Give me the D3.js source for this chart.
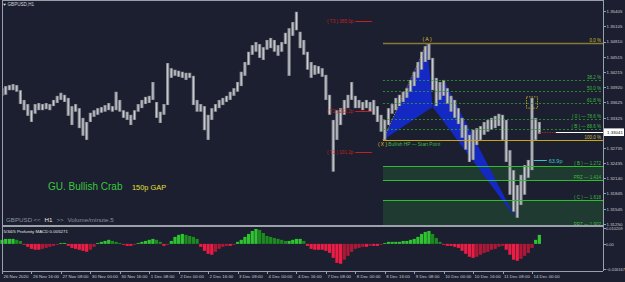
<!DOCTYPE html>
<html lang="en">
<head>
<meta charset="UTF-8">
<title>GBPUSD H1 - Bullish Crab</title>
<style>
  body { margin: 0; background: #1b1f30; }
  svg { display: block; }
  text { font-family: "Liberation Sans", Arial, sans-serif; }
  .axis path, .axis line { stroke: #9a9fab; shape-rendering: crispEdges; }
  .axis text { fill: #c9ccd3; font-size: 4.4px; font-family: "Liberation Sans", Arial, sans-serif; }
</style>
</head>
<body>
<svg id="chart" width="625" height="282"></svg>
<script src="https://cdn.jsdelivr.net/npm/d3@7"></script>
<script>
// ---- data (H1 chart, one entry per 2 hours) ----
const dateLabels = ['26 Nov 2020', '26 Nov 16:00', '27 Nov 08:00', '30 Nov 00:00', '30 Nov 16:00',
  '1 Dec 08:00', '2 Dec 00:00', '2 Dec 16:00', '3 Dec 08:00', '4 Dec 00:00', '4 Dec 16:00',
  '7 Dec 08:00', '8 Dec 00:00', '8 Dec 16:00', '9 Dec 08:00', '10 Dec 00:00', '10 Dec 16:00',
  '11 Dec 08:00', '14 Dec 00:00'];

const priceTicks = [1.35405, 1.35105, 1.34810, 1.34515, 1.34215, 1.33920, 1.33625, 1.33325,
  1.33030, 1.32735, 1.32435, 1.32140, 1.31845, 1.31545, 1.31250];

const barHigh = [
  1.3390, 1.3394, 1.3396, 1.3398, 1.3396, 1.3386, 1.3367, 1.3359, 1.3347, 1.3359,
  1.3361, 1.3359, 1.3361, 1.3359, 1.3367, 1.3375, 1.3381, 1.3377, 1.3371, 1.3355,
  1.3359, 1.3351, 1.3332, 1.3324, 1.3342, 1.3347, 1.3351, 1.3353, 1.3357, 1.3361,
  1.3355, 1.3383, 1.3367, 1.3347, 1.3344, 1.3338, 1.3347, 1.3359, 1.3367, 1.3373,
  1.3375, 1.3402, 1.3363, 1.3344, 1.3359, 1.3439, 1.3429, 1.3426, 1.3424, 1.3422,
  1.3420, 1.3420, 1.3414, 1.3367, 1.3359, 1.3355, 1.3338, 1.3351, 1.3359, 1.3367,
  1.3371, 1.3375, 1.3383, 1.3390, 1.3402, 1.3422, 1.3441, 1.3461, 1.3474, 1.3480,
  1.3476, 1.3470, 1.3484, 1.3488, 1.3484, 1.3474, 1.3480, 1.3498, 1.3507, 1.3519,
  1.3539, 1.3500, 1.3484, 1.3461, 1.3441, 1.3435, 1.3433, 1.3429, 1.3416, 1.3377,
  1.3328, 1.3347, 1.3351, 1.3367, 1.3377, 1.3402, 1.3375, 1.3367, 1.3363, 1.3367,
  1.3363, 1.3367, 1.3355, 1.3338, 1.3328, 1.3351, 1.3359, 1.3371, 1.3377, 1.3383,
  1.3390, 1.3406, 1.3422, 1.3441, 1.3461, 1.3472, 1.3478, 1.3449, 1.3410, 1.3402,
  1.3406, 1.3390, 1.3375, 1.3367, 1.3351, 1.3332, 1.3318, 1.3299, 1.3309, 1.3312,
  1.3316, 1.3324, 1.3328, 1.3332, 1.3336, 1.3340, 1.3338, 1.3328, 1.3269, 1.3230,
  1.3201, 1.3221, 1.3240, 1.3250, 1.3371, 1.3332, 1.3324];

const barLow = [
  1.3375, 1.3377, 1.3386, 1.3386, 1.3383, 1.3359, 1.3347, 1.3336, 1.3324, 1.3340,
  1.3347, 1.3347, 1.3349, 1.3347, 1.3355, 1.3361, 1.3367, 1.3363, 1.3336, 1.3318,
  1.3344, 1.3312, 1.3297, 1.3289, 1.3324, 1.3334, 1.3338, 1.3342, 1.3344, 1.3347,
  1.3344, 1.3347, 1.3344, 1.3332, 1.3328, 1.3318, 1.3328, 1.3344, 1.3351, 1.3359,
  1.3361, 1.3367, 1.3332, 1.3322, 1.3338, 1.3357, 1.3410, 1.3414, 1.3412, 1.3410,
  1.3406, 1.3410, 1.3357, 1.3344, 1.3344, 1.3308, 1.3289, 1.3328, 1.3344, 1.3351,
  1.3357, 1.3363, 1.3367, 1.3375, 1.3383, 1.3394, 1.3414, 1.3435, 1.3455, 1.3461,
  1.3449, 1.3445, 1.3465, 1.3468, 1.3461, 1.3453, 1.3461, 1.3476, 1.3414, 1.3492,
  1.3503, 1.3468, 1.3455, 1.3426, 1.3410, 1.3416, 1.3418, 1.3412, 1.3367, 1.3338,
  1.3227, 1.3289, 1.3318, 1.3338, 1.3351, 1.3367, 1.3351, 1.3351, 1.3347, 1.3351,
  1.3344, 1.3338, 1.3324, 1.3305, 1.3289, 1.3318, 1.3340, 1.3347, 1.3355, 1.3363,
  1.3371, 1.3383, 1.3394, 1.3410, 1.3426, 1.3441, 1.3445, 1.3386, 1.3355, 1.3367,
  1.3375, 1.3359, 1.3344, 1.3332, 1.3320, 1.3293, 1.3270, 1.3246, 1.3250, 1.3279,
  1.3289, 1.3299, 1.3305, 1.3309, 1.3312, 1.3316, 1.3289, 1.3246, 1.3182, 1.3149,
  1.3137, 1.3162, 1.3182, 1.3215, 1.3230, 1.3289, 1.3301];

// 5/34/5 MACD histogram
const macdHist = [
  0.0026, 0.0032, 0.0032, 0.0032, 0.0026, 0.0019, -0.0006, -0.0019, -0.0032, -0.0038,
  -0.0038, -0.0032, -0.0026, -0.0019, -0.0013, -0.0006, 0.0006, 0.0006, -0.0013, -0.0026,
  -0.0032, -0.0038, -0.0045, -0.0051, -0.0038, -0.0019, 0.0006, 0.0013, 0.0019, 0.0026,
  0.0019, 0.0013, 0.0006, -0.0006, -0.0013, -0.0013, -0.0006, 0.0006, 0.0013, 0.0019,
  0.0026, 0.0032, 0.0026, 0.0013, -0.0013, -0.0006, 0.0019, 0.0045, 0.0058, 0.0064,
  0.0058, 0.0051, 0.0045, 0.0032, -0.0019, -0.0045, -0.0064, -0.0070, -0.0051, -0.0032,
  -0.0019, -0.0013, -0.0013, -0.0006, 0.0013, 0.0026, 0.0045, 0.0064, 0.0083, 0.0096,
  0.0090, 0.0070, 0.0051, 0.0045, 0.0038, 0.0032, 0.0026, 0.0019, 0.0019, 0.0026,
  0.0032, 0.0032, 0.0019, -0.0013, -0.0032, -0.0038, -0.0038, -0.0038, -0.0045, -0.0058,
  -0.0090, -0.0122, -0.0128, -0.0102, -0.0077, -0.0051, -0.0032, -0.0026, -0.0019, -0.0019,
  -0.0013, -0.0013, -0.0013, -0.0006, 0.0006, 0.0013, 0.0013, 0.0013, 0.0013, 0.0019,
  0.0019, 0.0026, 0.0032, 0.0045, 0.0064, 0.0077, 0.0083, 0.0064, 0.0038, 0.0013,
  -0.0006, -0.0013, -0.0013, -0.0019, -0.0026, -0.0045, -0.0064, -0.0083, -0.0090, -0.0083,
  -0.0070, -0.0058, -0.0051, -0.0038, -0.0032, -0.0019, -0.0013, -0.0038, -0.0070, -0.0102,
  -0.0109, -0.0096, -0.0077, -0.0058, -0.0026, 0.0026, 0.0058];
const macdTicks = [0.010209, 0, -0.016167];

// harmonic pattern points (bar index, price)
const patX = { bar: 207, price: 1.3289 };
const patA = { bar: 231, price: 1.3478 };
const patB = { bar: 234, price: 1.3353 };
const patC = { bar: 240, price: 1.3406 };
const patD = { bar: 279, price: 1.3137 };

const fibRatios = [0, 0.382, 0.5, 0.618, 0.786, 0.886, 1.0];
const fibNames = ['0.0 %', '38.2 %', '50.0 %', '61.8 %', '( 0 ) \u2014 78.6 %', '( B ) \u2014 88.6 %', '100.0 %'];
const extRatios = [1.272, 1.414, 1.618, 1.902];
const extNames = ['( B ) \u2014 1.272', 'PRZ \u2014 1.414', '( C ) \u2014 1.618', 'PRZ \u2014 1.902'];

const targetNames = ['( T1 ) 101.2p', '( T2 ) 262.2p', '( T3 ) 385.0p'];
const targetPrices = [1.32655, 1.33454, 1.35210];

const bidPrice = 1.33041;
const gapPrice = 1.3250;   // 63.9p marker
const boxPrices = [1.3351, 1.3373];

// ---- layout ----
const W = 625, H = 282;
const left = 2, right = 603, mainTop = 1, mainBottom = 225, macdBottom = 271;

const svg = d3.select('#chart');
svg.append('rect').attr('width', W).attr('height', H).attr('fill', '#1b1f30');

const x = d3.scaleLinear().domain([0, 288]).range([2, 532]);
const y = d3.scaleLinear().domain([1.31250, 1.35405]).range([224, 11]);
const ym = d3.scaleLinear().domain([-0.016167, 0.010209]).range([269, 228]);

svg.append('clipPath').attr('id', 'clipMain')
  .append('rect').attr('x', left).attr('y', mainTop).attr('width', right - left).attr('height', mainBottom - mainTop);

const main = svg.append('g').attr('clip-path', 'url(#clipMain)');

const levelPrice = r => patA.price - r * (patA.price - patX.price);
const xr = x(patX.bar);

// zones
[[1.272, 1.414], [1.618, 1.902]].forEach(z => {
  main.append('rect')
    .attr('x', xr).attr('width', right - xr)
    .attr('y', y(levelPrice(z[0])))
    .attr('height', y(levelPrice(z[1])) - y(levelPrice(z[0])))
    .attr('fill', '#1e3a31');
});

// pattern triangles
const tri = d3.line().x(d => x(d.bar)).y(d => y(d.price));
main.append('path').attr('d', tri([patX, patA, patB]) + 'Z').attr('fill', '#1428c4');
main.append('path').attr('d', tri([patB, patC, patD]) + 'Z').attr('fill', '#1428c4');

// candles: range bar plus lighter core
main.selectAll('rect.bar').data(barHigh).join('rect')
  .attr('class', 'bar')
  .attr('x', (d, i) => x(i * 2) - 1.6)
  .attr('width', 3.2)
  .attr('y', d => y(d))
  .attr('height', (d, i) => Math.max(1, y(barLow[i]) - y(d)))
  .attr('fill', '#85888f');
main.selectAll('rect.core').data(barHigh).join('rect')
  .attr('class', 'core')
  .attr('x', (d, i) => x(i * 2) - 0.5)
  .attr('width', 1)
  .attr('y', d => y(d) + 0.5)
  .attr('height', (d, i) => Math.max(0.5, y(barLow[i]) - y(d) - 1))
  .attr('fill', '#cfd1d5');

// XA leg dotted
main.append('path').attr('d', tri([patX, patA]))
  .attr('stroke', '#d8b420').attr('stroke-width', 0.8).attr('stroke-dasharray', '1,1.5').attr('fill', 'none');

// fib retracement lines
fibRatios.forEach((r, i) => {
  const yy = Math.round(y(levelPrice(r))) + 0.5;
  let col = '#2fa52f', w = 0.8, dash = '2,2';
  if (r === 0) { col = '#8a7a2e'; w = 1.6; dash = null; }
  if (r === 1) { col = '#caa514'; w = 1.2; dash = null; }
  main.append('line').attr('x1', xr).attr('x2', right).attr('y1', yy).attr('y2', yy)
    .attr('stroke', col).attr('stroke-width', w).attr('stroke-dasharray', dash);
  main.append('text').attr('x', right - 2).attr('y', yy - 1.2)
    .attr('text-anchor', 'end').attr('font-size', 4.5)
    .attr('fill', (r === 0 || r === 1) ? '#d2bc34' : '#3cbc3c')
    .text(fibNames[i]);
});

// extension lines
extRatios.forEach((r, i) => {
  const yy = Math.round(y(levelPrice(r))) + 0.5;
  main.append('line').attr('x1', xr).attr('x2', right).attr('y1', yy).attr('y2', yy)
    .attr('stroke', '#2cbf2c').attr('stroke-width', 1);
  main.append('text').attr('x', right - 2).attr('y', yy - 1.5)
    .attr('text-anchor', 'end').attr('font-size', 4.5).attr('fill', '#3cbc3c')
    .text(extNames[i]);
});

// point labels
main.append('text').attr('x', x(patA.bar)).attr('y', y(patA.price) - 2)
  .attr('text-anchor', 'middle').attr('font-size', 5.2).attr('fill', '#e0c030').text('( A )');
const xl = main.append('text').attr('x', x(patX.bar) - 5).attr('y', y(patX.price) + 6.5)
  .attr('font-size', 4.8);
xl.append('tspan').attr('fill', '#e0c030').text('( X ) ');
xl.append('tspan').attr('fill', '#3cbc3c').text('Bullish HP \u2014 Start Point');

// targets
targetPrices.forEach((p, i) => {
  const yy = Math.round(y(p)) + 0.5;
  main.append('line').attr('x1', x(192)).attr('x2', x(201)).attr('y1', yy).attr('y2', yy)
    .attr('stroke', '#c81e1e').attr('stroke-width', 1);
  main.append('text').attr('x', x(192) - 2).attr('y', yy + 1.6)
    .attr('text-anchor', 'end').attr('font-size', 4.6).attr('fill', '#c42020').text(targetNames[i]);
});

// signal box
main.append('rect')
  .attr('x', x(285)).attr('width', x(291) - x(285))
  .attr('y', y(boxPrices[1])).attr('height', y(boxPrices[0]) - y(boxPrices[1]))
  .attr('fill', 'none').attr('stroke', '#d8b420').attr('stroke-width', 0.8).attr('stroke-dasharray', '1.5,1');

// gap marker
const gy = Math.round(y(gapPrice)) + 0.5;
main.append('line').attr('x1', x(289)).attr('x2', x(296)).attr('y1', gy).attr('y2', gy)
  .attr('stroke', '#3cc4c4').attr('stroke-width', 1);
main.append('text').attr('x', x(296) + 2).attr('y', gy + 2).attr('font-size', 5.5)
  .attr('fill', '#3cc4c4').text('63.9p');

// bid line
const by = Math.round(y(bidPrice)) + 0.5;
main.append('line').attr('x1', x(292)).attr('x2', x(301)).attr('y1', by).attr('y2', by)
  .attr('stroke', '#d02020').attr('stroke-width', 0.8).attr('stroke-dasharray', '1.5,1');
main.append('line').attr('x1', x(301)).attr('x2', right).attr('y1', by).attr('y2', by)
  .attr('stroke', '#ffffff').attr('stroke-width', 1);

// captions
svg.append('path').attr('d', 'M3,3.8 L6.2,3.8 L4.6,5.8 Z').attr('fill', '#e0e0e0');
svg.append('text').attr('x', 7.5).attr('y', 6.4).attr('font-size', 4.6).attr('fill', '#d0d2d8').text('GBPUSD,H1');

svg.append('text').attr('x', 48).attr('y', 190).attr('font-size', 10).attr('fill', '#3cc63c').text('GU. Bullish Crab');
svg.append('text').attr('x', 132).attr('y', 189.5).attr('font-size', 7.4).attr('fill', '#e6e03a').text('150p GAP');

const info = [['GBPUSD', 6, '#8c92a0'], ['<<', 33.5, '#8c92a0'], ['H1', 44.5, '#e6e6e6'],
  ['>>', 56.5, '#8c92a0'], ['Volume/minute.5', 67.5, '#8c92a0']];
info.forEach(t => svg.append('text').attr('x', t[1]).attr('y', 222).attr('font-size', 6.2).attr('fill', t[2]).text(t[0]));

// ---- MACD panel ----
svg.append('rect').attr('x', left).attr('y', mainBottom).attr('width', right - left).attr('height', 2).attr('fill', '#9ca0aa');
svg.append('text').attr('x', 3.5).attr('y', 233).attr('font-size', 4.4).attr('fill', '#e6e6e6')
  .text('5/34/5 Profunity MACD 0.005271');

svg.append('g').selectAll('rect').data(macdHist).join('rect')
  .attr('x', (d, i) => x(i * 2) - 1.6)
  .attr('width', 3.2)
  .attr('y', d => d >= 0 ? ym(d) : ym(0))
  .attr('height', d => Math.abs(ym(d) - ym(0)))
  .attr('fill', (d, i) => {
    const prev = i > 0 ? macdHist[i - 1] : d;
    if (d >= 0) return d >= prev ? '#2fc42f' : '#1d8a1f';
    return d <= prev ? '#ec1d44' : '#ad1836';
  });

// ---- frame and axes ----
svg.append('line').attr('x1', left + 0.5).attr('x2', left + 0.5).attr('y1', 0).attr('y2', macdBottom)
  .attr('stroke', '#9a9fab');
svg.append('line').attr('x1', left).attr('x2', right).attr('y1', 0.5).attr('y2', 0.5)
  .attr('stroke', '#9a9fab');

const xAxis = d3.axisBottom(x)
  .tickValues(d3.range(0, 289, 16))
  .tickFormat((d, i) => dateLabels[i])
  .tickSize(2).tickPadding(1);
const gx = svg.append('g').attr('class', 'axis')
  .attr('transform', `translate(0,${macdBottom + 0.5})`).call(xAxis);
gx.select('.domain').attr('d', `M${left},0H${right}`);
gx.selectAll('text').attr('text-anchor', 'start').attr('x', 1);

const yAxis = d3.axisRight(y).tickValues(priceTicks).tickFormat(d3.format('.5f')).tickSize(2).tickPadding(1);
const gy2 = svg.append('g').attr('class', 'axis')
  .attr('transform', `translate(${right + 0.5},0)`).call(yAxis);
gy2.select('.domain').attr('d', `M0,0V${macdBottom}`);

const mAxis = d3.axisRight(ym).tickValues(macdTicks)
  .tickFormat(d => d === 0 ? '0.00' : d3.format('.6f')(d)).tickSize(2).tickPadding(0.5);
const gm = svg.append('g').attr('class', 'axis')
  .attr('transform', `translate(${right + 0.5},0)`).call(mAxis);
gm.select('.domain').remove();
gm.selectAll('text').style('font-size', '4px');

// bid price box
const bid = svg.append('g').attr('transform', `translate(${right + 1},${y(bidPrice)})`);
bid.append('rect').attr('x', 0).attr('y', -3.8).attr('width', 20).attr('height', 7.6).attr('fill', '#ffffff');
bid.append('text').attr('x', 3).attr('y', 1.6).attr('font-size', 4.4).attr('fill', '#111').text(d3.format('.5f')(bidPrice));
</script>
</body>
</html>
